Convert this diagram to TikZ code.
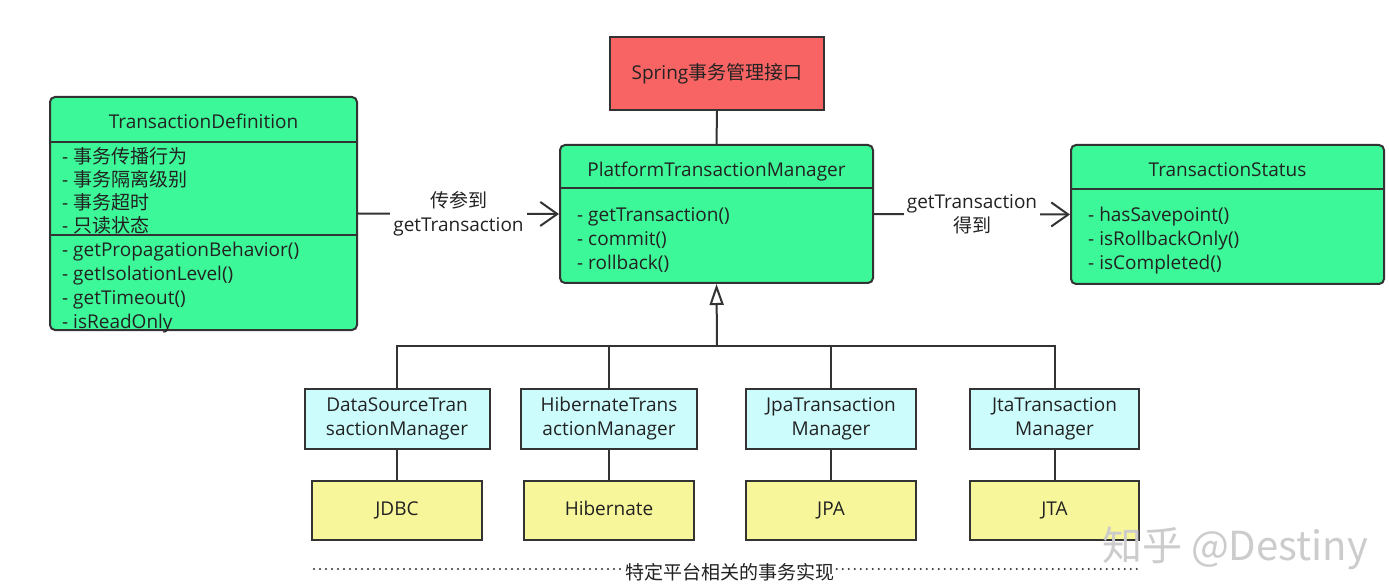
\documentclass[tikz,border=0pt]{standalone}
\usepackage{fontspec}
\setmainfont{Open Sans}
\newfontfamily\cjk{Noto Sans CJK SC}
\usetikzlibrary{arrows.meta}
\definecolor{gr}{HTML}{3DF898}
\definecolor{rd}{HTML}{F86464}
\definecolor{bl}{HTML}{CCFCFC}
\definecolor{yl}{HTML}{F8F69A}
\definecolor{ln}{HTML}{333333}
\definecolor{tx}{HTML}{222222}
\begin{document}
\begin{tikzpicture}[x=1pt,y=-1pt,
  font=\fontsize{19}{24}\selectfont, text=tx,
  box/.style={draw=ln, line width=2pt, inner sep=0pt, align=center},
  gbox/.style={box, fill=gr, rounded corners=5pt},
  rbox/.style={box, fill=rd},
  bbox/.style={box, fill=bl, minimum height=60pt},
  ybox/.style={box, fill=yl, minimum height=59pt, text height=14pt, text depth=4pt},
  conn/.style={draw=ln, line width=2pt},
  sep/.style={draw=ln, line width=2pt},
  arr/.style={conn, -{Straight Barb[length=17pt,width=24pt,line width=2pt]}},
  inh/.style={conn, -{Triangle[open,length=21pt,width=14pt,line width=2pt]}},
  lbl/.style={fill=white, align=center, inner xsep=3pt, inner ysep=0pt},
  item/.style={anchor=base west, inner sep=0pt},
  ttl/.style={anchor=base, inner sep=0pt},
  dots/.style={draw=ln, line width=2.2pt, line cap=round, dash pattern=on 0pt off 6pt}
]
\path[use as bounding box, fill=white] (0,0) rectangle (1389,585);

% Spring interface box
\node[rbox, minimum width=214pt, minimum height=73pt] (spring) at (717,73.5) {Spring{\cjk 事务管理接口}};

% PlatformTransactionManager
\node[gbox, minimum width=313pt, minimum height=138pt] (ptm) at (716.5,214) {};
\draw[sep] (ptm.west |- 0,188) -- (ptm.east |- 0,188);
\node[ttl] (ptmt) at (716.5,177) {PlatformTransactionManager};
\node[item] (ptm1) at (577,222) {- getTransaction()};
\node[item] (ptm2) at (577,246) {- commit()};
\node[item] (ptm3) at (577,270) {- rollback()};

% TransactionDefinition
\node[gbox, minimum width=307pt, minimum height=233pt] (td) at (203.5,213.5) {};
\draw[sep] (td.west |- 0,142) -- (td.east |- 0,142);
\draw[sep] (td.west |- 0,235) -- (td.east |- 0,235);
\node[ttl] (tdt) at (203.5,129) {TransactionDefinition};
\node[item] (td1) at (62,164) {- {\cjk 事务传播行为}};
\node[item] (td2) at (62,187) {- {\cjk 事务隔离级别}};
\node[item] (td3) at (62,210) {- {\cjk 事务超时}};
\node[item] (td4) at (62,233) {- {\cjk 只读状态}};
\node[item] (td5) at (62,257) {- getPropagationBehavior()};
\node[item] (td6) at (62,281) {- getIsolationLevel()};
\node[item] (td7) at (62,305) {- getTimeout()};
\node[item] (td8) at (62,328) {- isReadOnly};

% TransactionStatus
\node[gbox, minimum width=313pt, minimum height=139pt] (ts) at (1227.5,214.5) {};
\draw[sep] (ts.west |- 0,189) -- (ts.east |- 0,189);
\node[ttl] (tst) at (1227.5,177) {TransactionStatus};
\node[item] (ts1) at (1088,222) {- hasSavepoint()};
\node[item] (ts2) at (1088,246) {- isRollbackOnly()};
\node[item] (ts3) at (1088,270) {- isCompleted()};

% connectors top
\draw[conn] (spring.south) -- (ptm.north);
\draw[arr] (td.east) -- node[lbl] (l1) {{\cjk 传参到}\\getTransaction} (ptm.west);
\draw[arr] (ptm.east) -- node[lbl] (l2) {getTransaction\\{\cjk 得到}} (ts.west);

% implementation managers
\node[bbox, minimum width=185pt] (ds) at (397,419) {DataSourceTran\\sactionManager};
\node[bbox, minimum width=176pt] (hib) at (609,419) {HibernateTrans\\actionManager};
\node[bbox, minimum width=170pt] (jpa) at (831,419) {JpaTransaction\\Manager};
\node[bbox, minimum width=169pt] (jta) at (1054.5,419) {JtaTransaction\\Manager};

\node[ybox, minimum width=170pt] (jdbc) at (397,510.5) {JDBC};
\node[ybox, minimum width=170pt] (hibf) at (609,510.5) {Hibernate};
\node[ybox, minimum width=170pt] (jpaf) at (831,510.5) {JPA};
\node[ybox, minimum width=169pt] (jtaf) at (1054.5,510.5) {JTA};

% inheritance tree
\coordinate (bus) at (717,346);
\draw[inh] (bus) -- (ptm.south);
\draw[conn] (ds.north) |- (bus) -| (jta.north);
\draw[conn] (hib.north) -- (hib.north |- bus);
\draw[conn] (jpa.north) -- (jpa.north |- bus);

\draw[conn] (ds.south) -- (jdbc.north);
\draw[conn] (hib.south) -- (hibf.north);
\draw[conn] (jpa.south) -- (jpaf.north);
\draw[conn] (jta.south) -- (jtaf.north);

% bottom dotted line
\node[inner sep=2pt, font=\cjk\fontsize{19}{24}\selectfont] (plat) at (730,572) {特定平台相关的事务实现};
\coordinate (dl) at (314,569);
\coordinate (dr) at (1142,569);
\draw[dots] (dl) -- (plat.west |- dl);
\draw[dots] (plat.east |- dr) -- (dr);

% watermark
\node[text=gray!40, font=\cjk\fontsize{40}{40}\selectfont, inner sep=0pt] (wm) at (1235,548) {知乎 @Destiny};
\end{tikzpicture}
\end{document}
